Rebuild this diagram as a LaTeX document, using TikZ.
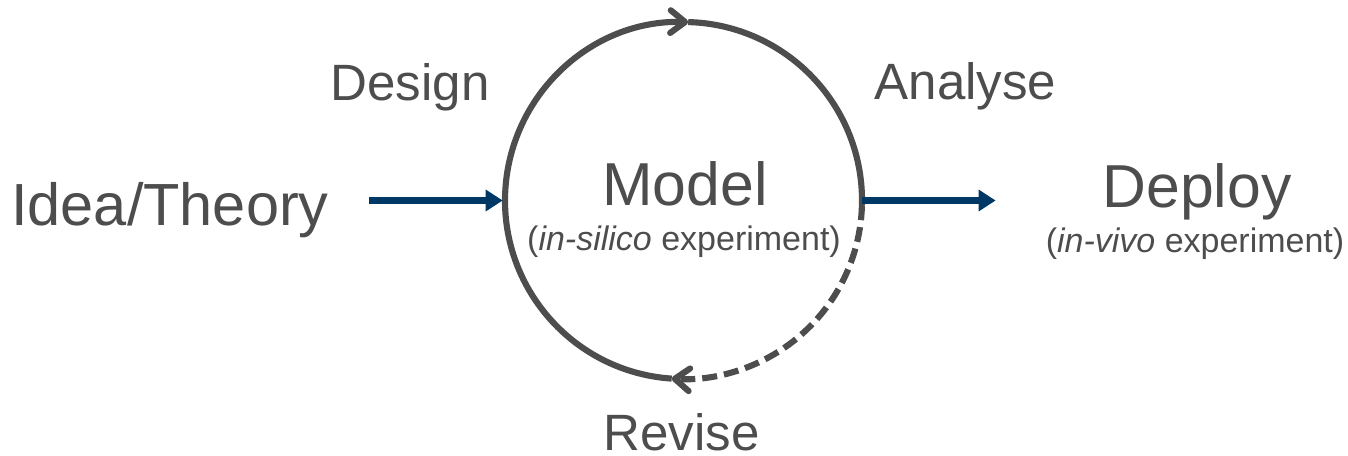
\documentclass[tikz,border=0pt]{standalone}
\usepackage{fontspec}
\setmainfont{Liberation Sans}
\usetikzlibrary{arrows.meta}
\definecolor{ink}{HTML}{4D4D4D}
\definecolor{flowblue}{HTML}{003865}
\begin{document}
\begin{tikzpicture}[x=0.75pt,y=0.75pt,
  lbl/.style={anchor=base, inner sep=0pt, text=ink},
  big/.style={lbl, font=\fontsize{45.5}{50}\selectfont},
  stage/.style={lbl, font=\fontsize{38.3}{42}\selectfont},
  sub/.style={lbl, font=\fontsize{25.5}{28}\selectfont},
  loop/.style={draw=ink, line width=4.6pt},
  loopdash/.style={loop, dash pattern=on 11.25pt off 5.25pt},
  barb/.style={-{Straight Barb[length=11pt,width=17pt,round]}},
  flow/.style={draw=flowblue, line width=5pt, -{Triangle[length=12.75pt,width=15.5pt]}}
]
\useasboundingbox (0,0) rectangle (1348,455);

% the modelling cycle
\node[circle, minimum size=267.75pt, inner sep=0pt] (cyc) at (683.5,254.5) {};
\draw[loop, barb] (cyc.center) ++(266.2:178.5) arc[start angle=266.2, end angle=88.5, radius=178.5];
\draw[loop] (cyc.center) ++(88.5:178.5) arc[start angle=88.5, end angle=-1.5, radius=178.5];
\draw[loopdash, barb] (cyc.center) ++(358.5:178.5) arc[start angle=358.5, end angle=266.2, radius=178.5];

% labels
\node[big, font=\fontsize{44.6}{48}\selectfont] (idea) at (170,230) {Idea/Theory};
\node[big] (model) at (685,250) {Model};
\node[sub] (modelsub) at (684,205) {(\textit{in-silico} experiment)};
\node[big] (deploy) at (1197,248) {Deploy};
\node[sub] (deploysub) at (1195,203) {(\textit{in-vivo} experiment)};
\node[stage] (design) at (410,355) {Design};
\node[stage] (analyse) at (965.5,356) {Analyse};
\node[stage] (revise) at (681.5,4.5) {Revise};

% flow in and out of the cycle
\draw[flow, shorten <=30pt, shorten >=1.5pt] (idea.east |- cyc.west) -- (cyc.west);
\draw[flow, shorten >=80pt] (cyc.east) -- (cyc.east -| deploy.west);
\end{tikzpicture}
\end{document}
